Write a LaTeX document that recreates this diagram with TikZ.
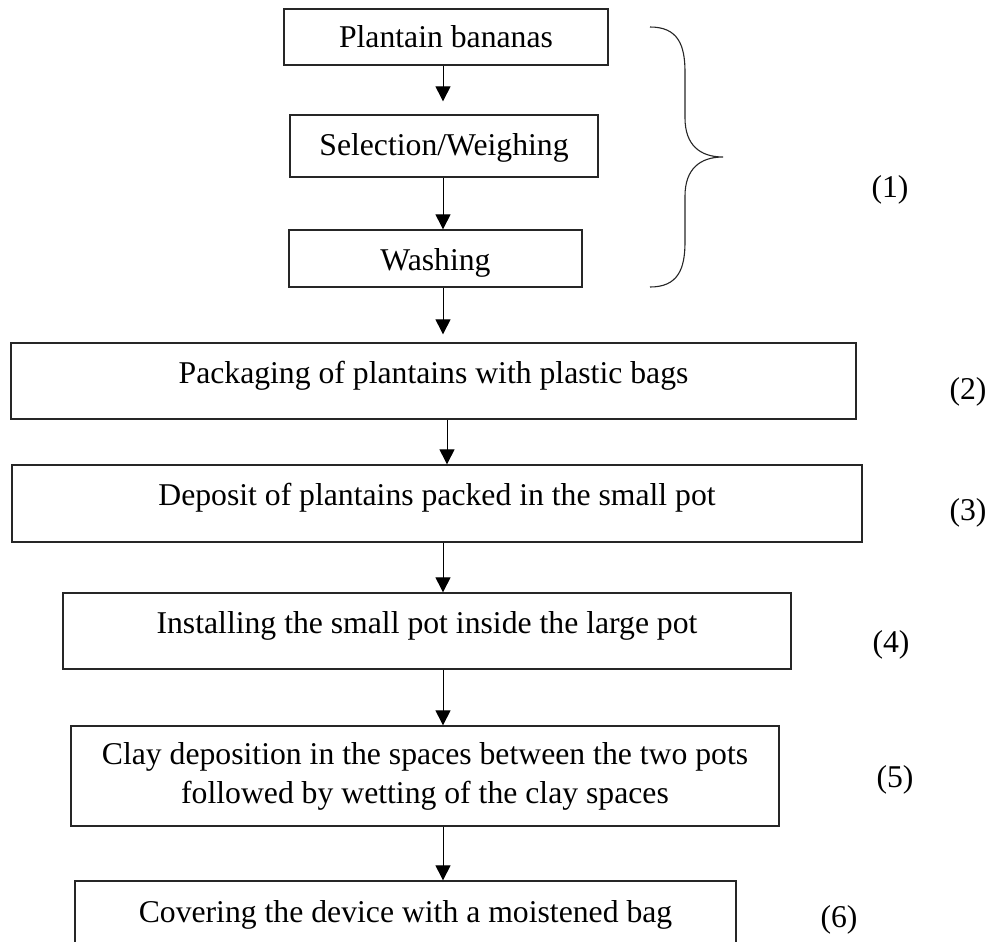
\documentclass[tikz,border=0pt]{standalone}
\usepackage{fontspec}
\setmainfont{Liberation Serif}
\usetikzlibrary{arrows.meta}
\tikzset{
  boxline/.style={
    draw=black!85,
    line width=1.3pt,
    inner xsep=0pt,
    inner ysep=0pt,
    font=\fontsize{31.7}{39}\selectfont
  },
  procbox/.style={
    boxline,
    anchor=base,
    text height=40pt
  },
  numlabel/.style={
    inner sep=0pt,
    font=\fontsize{31.7}{39}\selectfont
  },
  arrow/.style={
    -{Triangle[length=15pt,width=15pt]},
    line width=1pt,
    black
  },
  brace/.style={
    line width=1.1pt,
    black!85
  }
}

\begin{document}
\begin{tikzpicture}[x=1pt,y=-1pt]
\useasboundingbox (0,0) rectangle (991,942);
\clip (0,0) rectangle (991,942);
% preparation steps
\node[procbox, minimum width=324pt, text height=39pt, text depth=17pt] (bananas) at (446,48) {Plantain bananas};
\node[procbox, minimum width=308pt, text depth=22pt] (selection) at (444,155) {Selection/Weighing};
\node[procbox, minimum width=293pt, text depth=17pt] (washing) at (435.5,270) {Washing};
% conservation in the pots
\node[procbox, minimum width=845pt, text depth=36pt] (packaging) at (433.5,383) {Packaging of plantains with plastic bags};
\node[procbox, minimum width=850pt, text depth=37pt] (deposit) at (437,505) {Deposit of plantains packed in the small pot};
\node[procbox, minimum width=728pt, text depth=36pt] (installing) at (427,633) {Installing the small pot inside the large pot};
\node[boxline, align=center, minimum width=708pt, minimum height=100pt] (clay) at (425,776) {Clay deposition in the spaces between the two pots\\followed by wetting of the clay spaces};
\node[procbox, minimum width=661pt, text height=41pt, text depth=60pt] (covering) at (405.5,922) {Covering the device with a moistened bag};

\coordinate (spine) at (443,0);
\draw[arrow, shorten >=13pt] (bananas.south -| spine) -- (selection.north -| spine);
\draw[arrow] (selection.south -| spine) -- (washing.north -| spine);
\draw[arrow, shorten >=8pt] (washing.south -| spine) -- (packaging.north -| spine);
\draw[arrow] ([xshift=4pt]packaging.south -| spine) -- ([xshift=4pt]deposit.north -| spine);
\draw[arrow] (deposit.south -| spine) -- (installing.north -| spine);
\draw[arrow] (installing.south -| spine) -- (clay.north -| spine);
\draw[arrow] (clay.south -| spine) -- (covering.north -| spine);

% brace over the first three steps
\draw[brace] (650,27) .. controls (678,27) and (685,45) .. (685,72)
  -- (685,118) .. controls (685,145) and (700,157) .. (723,157)
  .. controls (700,157) and (685,169) .. (685,196)
  -- (685,242) .. controls (685,269) and (678,287) .. (650,287);

% step numbers
\node[numlabel] (n1) at (890,190) {(1)};
\node[numlabel] (n2) at (968,392) {(2)};
\node[numlabel] (n3) at (968,513) {(3)};
\node[numlabel] (n4) at (891,645) {(4)};
\node[numlabel] (n5) at (895,780) {(5)};
\node[numlabel] (n6) at (839,920) {(6)};
\end{tikzpicture}
\end{document}
